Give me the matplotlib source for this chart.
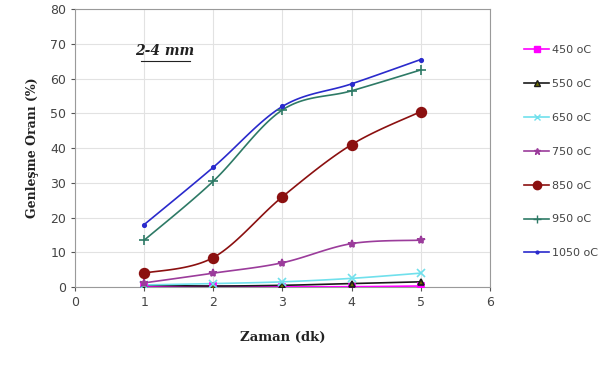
import numpy as np
import matplotlib
matplotlib.use('Agg')
import matplotlib.pyplot as plt
from matplotlib.lines import Line2D

# Veri (Zaman, dk) ve genleşme oranları (%)
zaman = [1, 2, 3, 4, 5]
t450 = [0.2, 0.2, 0.1, 0.1, 0.3]
t550 = [0.5, 0.3, 0.5, 1.0, 1.5]
t650 = [0.6, 1.0, 1.5, 2.5, 4.0]
t750 = [1.2, 4.0, 7.0, 12.5, 13.5]
t850 = [4.0, 8.5, 26.0, 41.0, 50.5]
t950 = [13.5, 30.5, 51.0, 56.5, 62.5]
t1050 = [18.0, 34.5, 52.0, 58.5, 65.5]

labels = ['450 oC', '550 oC', '650 oC', '750 oC', '850 oC', '950 oC', '1050 oC']
series = [t450, t550, t650, t750, t850, t950, t1050]
colors = ['#FF00FF', '#1A1A1A', '#70E0EC', '#9B3C9B', '#8B1010', '#2E7A66', '#2A2ACC']
markers = ['s', '^', 'x', '*', 'o', '+', '.']
msizes = [5, 5, 6, 6, 7, 7, 5]
mfaces = ['#FF00FF', '#6B6B00', '#70E0EC', '#9B3C9B', '#8B1010', '#2E7A66', '#2A2ACC']


def smooth(x, y, n=30):
    # Excel benzeri yumuşatılmış çizgi (Bezier)
    x = np.asarray(x, float)
    y = np.asarray(y, float)
    xs, ys = [], []
    for i in range(len(x) - 1):
        p0 = np.array([x[i - 1] if i > 0 else x[i], y[i - 1] if i > 0 else y[i]])
        p1 = np.array([x[i], y[i]])
        p2 = np.array([x[i + 1], y[i + 1]])
        p3 = np.array([x[i + 2] if i + 2 < len(x) else x[i + 1],
                       y[i + 2] if i + 2 < len(x) else y[i + 1]])
        c1 = p1 + (p2 - p0) / 6
        c2 = p2 - (p3 - p1) / 6
        t = np.linspace(0, 1, n)[:, None]
        pts = ((1 - t) ** 3) * p1 + 3 * ((1 - t) ** 2) * t * c1 + 3 * (1 - t) * t ** 2 * c2 + t ** 3 * p2
        xs.extend(pts[:, 0])
        ys.extend(pts[:, 1])
    return xs, ys


fig = plt.figure(figsize=(6.16, 3.68), dpi=100)
ax = fig.add_axes([0.122, 0.22, 0.673, 0.755])

handles = []
for y, c, m, ms, mf, lab in zip(series, colors, markers, msizes, mfaces, labels):
    sx, sy = smooth(zaman, y)
    ax.plot(sx, sy, color=c, lw=1.2, zorder=3)
    ax.plot(zaman, y, linestyle='none', marker=m, markersize=ms, color=c,
            markerfacecolor=mf, markeredgewidth=1.2, zorder=4)
    handles.append(Line2D([0], [0], color=c, lw=1.2, marker=m, markersize=ms - 1,
                          markerfacecolor=mf, markeredgewidth=1.0, label=lab))

ax.set_xlim(0, 6)
ax.set_ylim(0, 80)
ax.set_xticks(range(0, 7))
ax.set_yticks(range(0, 81, 10))
ax.grid(True, color='#E2E2E2', lw=0.8)
ax.set_axisbelow(True)
for s in ax.spines.values():
    s.set_color('#9A9A9A')
ax.tick_params(colors='#555555', labelsize=9, length=3)
for lbl in ax.get_xticklabels() + ax.get_yticklabels():
    lbl.set_color('#444444')

ax.set_xlabel('Zaman (dk)', fontsize=9.5, fontweight='bold', family='DejaVu Serif',
              labelpad=16, color='#222222')
ax.set_ylabel('Genleşme Oranı (%)', fontsize=9, fontweight='bold', family='DejaVu Serif',
              labelpad=8, color='#222222')

ax.text(1.3, 68, '2-4 mm', fontsize=10, fontweight='bold', style='italic',
        family='DejaVu Serif', ha='center', va='center', color='#222222')
ax.plot([0.96, 1.66], [65.2, 65.2], color='#222222', lw=0.8)

fig.legend(handles=handles, loc='upper left', bbox_to_anchor=(0.835, 0.905),
           frameon=False, fontsize=8, labelspacing=2.15, handlelength=2.2,
           handletextpad=0.3, labelcolor='#444444')

fig.savefig('out.png', dpi=100)
